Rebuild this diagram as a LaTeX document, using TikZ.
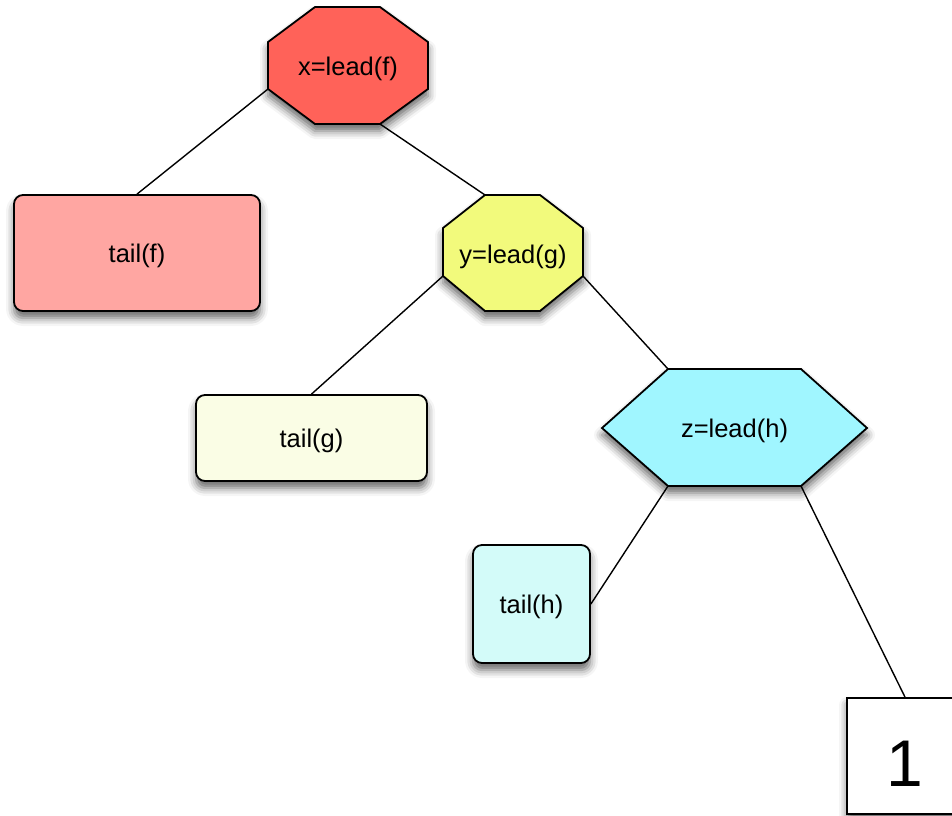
\documentclass[tikz,border=0pt]{standalone}
\usepackage{fontspec}
\setmainfont{Liberation Sans}
\usetikzlibrary{shadows.blur}

\definecolor{leadred}{HTML}{FF6259}
\definecolor{tailred}{HTML}{FFA6A2}
\definecolor{leadyellow}{HTML}{F2FA7C}
\definecolor{tailyellow}{HTML}{FAFDE5}
\definecolor{leadcyan}{HTML}{A0F6FF}
\definecolor{tailcyan}{HTML}{D3FBF9}

\tikzset{
  softshadow/.style={blur shadow={shadow xshift=0pt, shadow yshift=-7pt,
      shadow blur radius=8pt, shadow opacity=60}},
  leadshape/.style={draw=black, line width=1.8pt, line join=miter, softshadow},
  tailbox/.style={draw=black, line width=1.8pt, rounded corners=9pt,
      softshadow, inner sep=0pt},
  label/.style={font=\fontsize{25.5}{30}\selectfont, inner sep=0pt,
      text height=19pt, text depth=0pt},
  link/.style={draw=black, line width=1.4pt},
}

\begin{document}
\begin{tikzpicture}[x=1pt, y=-1pt]
\clip (0,0) rectangle (952,815);
\useasboundingbox (0,0) rectangle (952,815);

% corner points of the lead shapes
\coordinate (x-sw) at (268,89);
\coordinate (x-se) at (380,124);
\coordinate (y-nw) at (485,195);
\coordinate (y-sw) at (443,276);
\coordinate (y-se) at (583,276);
\coordinate (z-nw) at (668,369);
\coordinate (z-sw) at (668,486);
\coordinate (z-se) at (801,486);

% leaf boxes
\node[tailbox, fill=tailred, minimum width=246pt, minimum height=116pt, label]
  (tf) at (137,253) {tail(f)};
\node[tailbox, fill=tailyellow, minimum width=231pt, minimum height=86pt, label]
  (tg) at (311.5,438) {tail(g)};
\node[tailbox, fill=tailcyan, minimum width=117pt, minimum height=118pt, label]
  (th) at (531.5,604) {tail(h)};
\node[draw=black, line width=1.8pt, fill=white, softshadow, inner sep=0pt,
      minimum width=116pt, minimum height=116pt, text height=61pt, text depth=0pt,
      font=\fontsize{66}{70}\selectfont]
  (one) at (905,756) {1};

% tree edges
\draw[link] (x-sw) -- (tf.north);
\draw[link] (x-se) -- (y-nw);
\draw[link] (y-sw) -- (tg.north);
\draw[link] (y-se) -- (z-nw);
\draw[link] (z-sw) -- (th.east);
\draw[link] (z-se) -- (one.north);

% lead shapes
\path[leadshape, fill=leadred]
  (315,7) -- (380,7) -- (428,42) -- (428,89) -- (x-se) -- (315,124)
  -- (x-sw) -- (268,42) -- cycle;
\node[label] (x) at (348,66) {x=lead(f)};

\path[leadshape, fill=leadyellow]
  (y-nw) -- (540,195) -- (583,228) -- (y-se) -- (540,311) -- (485,311)
  -- (y-sw) -- (443,228) -- cycle;
\node[label] (y) at (513,254) {y=lead(g)};

\path[leadshape, fill=leadcyan]
  (z-nw) -- (801,369) -- (867,428) -- (z-se) -- (z-sw) -- (602,428) -- cycle;
\node[label] (z) at (734.5,428) {z=lead(h)};
\end{tikzpicture}
\end{document}
